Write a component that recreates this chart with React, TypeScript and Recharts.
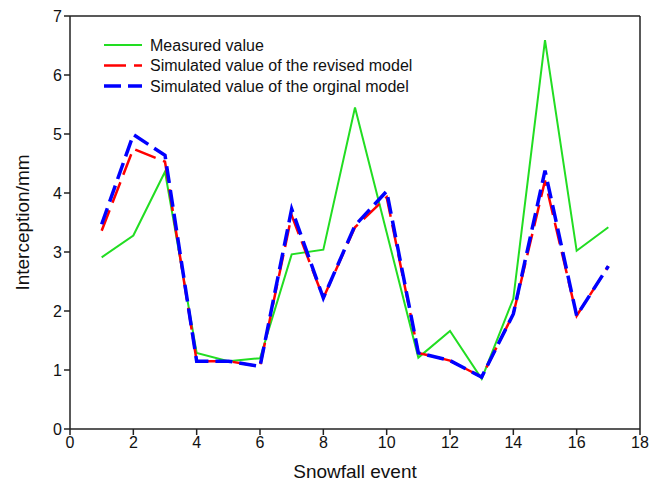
import { LineChart, Line, XAxis, YAxis, Label, ReferenceLine } from "recharts";

// snowfall events 1..17
const events = [1, 2, 3, 4, 5, 6, 7, 8, 9, 10, 11, 12, 13, 14, 15, 16, 17];
const measured = [2.91, 3.28, 4.36, 1.29, 1.15, 1.2, 2.96, 3.04, 5.45, 3.33, 1.21, 1.66, 0.85, 2.21, 6.59, 3.02, 3.42];
const revised = [3.36, 4.75, 4.53, 1.15, 1.15, 1.06, 3.62, 2.22, 3.42, 3.93, 1.29, 1.16, 0.88, 1.95, 4.21, 1.92, 2.76];
const original = [3.47, 4.99, 4.64, 1.15, 1.15, 1.06, 3.73, 2.22, 3.45, 4.03, 1.29, 1.16, 0.88, 1.95, 4.38, 1.92, 2.76];

const xTicks = [0, 2, 4, 6, 8, 10, 12, 14, 16, 18];
const yTicks = [0, 1, 2, 3, 4, 5, 6, 7];

const seriesNames = [
  "Measured value",
  "Simulated value of the revised model",
  "Simulated value of the orginal model",
];

const GREEN = "#22dd22";
const RED = "#ff0000";
const BLUE = "#0000ff";
const AXIS = "#222";
const FONT = "'Liberation Sans', Arial, sans-serif";

const data = events.map((e, i) => ({
  event: e,
  measured: measured[i],
  revised: revised[i],
  original: original[i],
}));

// legend drawn as an overlay so it takes no room from the plot
function ChartLegend() {
  const rows = [
    { name: seriesNames[0], color: GREEN, dash: undefined, w: 2 },
    { name: seriesNames[1], color: RED, dash: "22 8", w: 2.5 },
    { name: seriesNames[2], color: BLUE, dash: "17 7", w: 3.5 },
  ];
  return (
    <svg
      width={360}
      height={70}
      style={{ position: "absolute", left: 104, top: 35, display: "block" }}
    >
      {rows.map((r, i) => (
        <g key={r.name}>
          <line
            x1={0}
            x2={38}
            y1={10 + i * 20.5}
            y2={10 + i * 20.5}
            stroke={r.color}
            strokeWidth={r.w}
            strokeDasharray={r.dash}
          />
          <text
            x={46}
            y={10 + i * 20.5}
            dy="0.35em"
            fontSize={16}
            fontFamily={FONT}
            fill="#111"
          >
            {r.name}
          </text>
        </g>
      ))}
    </svg>
  );
}

export default function App() {
  const tick = { fontSize: 16, fontFamily: FONT, fill: "#111" };
  const axisLine = { stroke: AXIS, strokeWidth: 1.5 };
  return (
    <div style={{ position: "absolute", left: 0, top: 0, width: 663, height: 487, background: "#fff" }}>
      <LineChart
        width={663}
        height={487}
        data={data}
        margin={{ top: 16, right: 23, bottom: 28, left: 28 }}
      >
        <XAxis
          dataKey="event"
          type="number"
          domain={[0, 18]}
          ticks={xTicks}
          tickSize={6}
          tick={tick}
          axisLine={axisLine}
          tickLine={axisLine}
          height={30}
        >
          <Label
            content={({ viewBox }: any) => (
              <text
                x={viewBox.x + viewBox.width / 2}
                y={viewBox.y + 42}
                textAnchor="middle"
                dy="0.35em"
                fontSize={19}
                fontFamily={FONT}
                fill="#111"
              >
                Snowfall event
              </text>
            )}
          />
        </XAxis>
        <YAxis
          type="number"
          domain={[0, 7]}
          ticks={yTicks}
          tickSize={6}
          tick={tick}
          axisLine={axisLine}
          tickLine={axisLine}
          width={42}
        >
          <Label
            content={({ viewBox }: any) => (
              <text
                x={22}
                y={viewBox.y + viewBox.height / 2}
                textAnchor="middle"
                dy="0.35em"
                transform={`rotate(-90 22 ${viewBox.y + viewBox.height / 2})`}
                fontSize={19}
                fontFamily={FONT}
                fill="#111"
              >
                Interception/mm
              </text>
            )}
          />
        </YAxis>
        <ReferenceLine y={7} stroke={AXIS} strokeWidth={1.5} />
        <ReferenceLine x={18} stroke={AXIS} strokeWidth={1.5} />
        <Line
          dataKey="measured"
          name={seriesNames[0]}
          stroke={GREEN}
          strokeWidth={2}
          dot={false}
          isAnimationActive={false}
        />
        <Line
          dataKey="revised"
          name={seriesNames[1]}
          stroke={RED}
          strokeWidth={2.5}
          strokeDasharray="22 8"
          dot={false}
          isAnimationActive={false}
        />
        <Line
          dataKey="original"
          name={seriesNames[2]}
          stroke={BLUE}
          strokeWidth={3.5}
          strokeDasharray="17 7"
          dot={false}
          isAnimationActive={false}
        />
      </LineChart>
      <ChartLegend />
    </div>
  );
}
